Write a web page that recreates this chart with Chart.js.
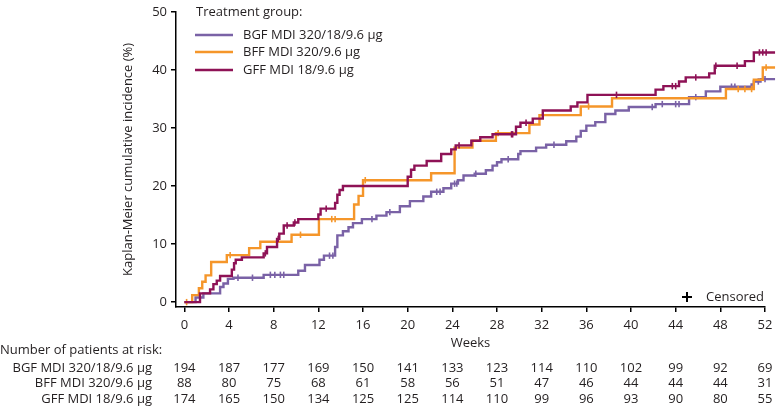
<!DOCTYPE html>
<html>
<head>
<meta charset="utf-8">
<script src="https://cdn.jsdelivr.net/npm/chart.js@4"></script>
<style>
  html, body { margin: 0; padding: 0; background: #fff; }
  #wrap { width: 778px; height: 407px; position: relative; }
</style>
</head>
<body>
<div id="wrap"><canvas id="chart"></canvas></div>
<script>
const groupNames = ["BGF MDI 320/18/9.6 µg", "BFF MDI 320/9.6 µg", "GFF MDI 18/9.6 µg"];
const groupColors = ["#7a62a6", "#f5962a", "#8e1256"];

// step points: week of event, cumulative incidence after it (%)
const bgfWeeks = [0, 1.0, 1.7, 3.2, 3.5, 3.9, 4.4, 7.1, 10.2, 10.8, 12.1, 12.5, 13.5, 13.7, 14.2, 14.7, 15.1, 15.9, 17.2, 18.1, 19.3, 20.2, 21.4, 22.1, 23.2, 23.9, 24.5, 25.0, 26.0, 27.0, 27.6, 28.0, 28.4, 29.9, 30.1, 31.5, 32.4, 34.2, 35.1, 35.5, 36.0, 36.8, 37.7, 38.6, 39.8, 42.2, 45.2, 46.7, 48.0, 50.8, 51.0, 51.6, 52.9];
const bgfPct   = [0, 0.8, 1.5, 2.6, 3.2, 4.0, 4.2, 4.7, 5.4, 6.4, 7.3, 8.0, 9.5, 11.5, 12.2, 12.9, 13.6, 14.3, 14.9, 15.5, 16.5, 17.4, 18.2, 19.0, 19.6, 20.4, 21.0, 21.8, 22.1, 22.7, 23.5, 24.1, 24.6, 25.5, 26.0, 26.6, 27.1, 27.7, 28.5, 29.5, 30.4, 31.0, 32.4, 33.0, 33.6, 34.1, 35.3, 36.3, 37.1, 37.5, 38.0, 38.4, 38.4];

const bffWeeks = [0, 0.7, 1.3, 1.6, 1.9, 2.4, 3.8, 5.8, 6.8, 9.6, 12.05, 15.2, 15.6, 16.0, 22.1, 24.2, 25.8, 27.9, 30.9, 31.8, 35.5, 38.3, 48.5, 51.0, 51.8, 52.9];
const bffPct   = [0, 1.2, 2.4, 3.5, 4.6, 6.9, 8.1, 9.3, 10.4, 11.6, 14.3, 16.8, 18.3, 21.0, 22.2, 26.6, 27.8, 29.1, 30.6, 32.2, 33.7, 35.1, 36.7, 38.3, 40.4, 40.4];

const gffWeeks = [0, 1.4, 2.3, 2.6, 2.9, 3.2, 4.25, 4.45, 4.6, 5.15, 7.1, 7.4, 8.3, 8.5, 8.9, 9.8, 10.2, 12.0, 12.2, 13.5, 13.7, 13.9, 14.2, 20.0, 20.3, 20.6, 21.7, 23.0, 23.9, 24.3, 25.7, 26.5, 27.6, 29.7, 30.1, 31.2, 32.1, 34.6, 35.2, 36.1, 42.2, 42.9, 44.3, 44.9, 47.0, 47.5, 50.2, 51.0, 52.9];
const gffPct   = [0, 1.5, 2.2, 3.1, 3.7, 4.5, 5.6, 6.7, 7.3, 7.7, 8.4, 9.5, 10.9, 11.8, 13.2, 13.7, 14.3, 15.1, 16.1, 17.1, 18.5, 19.3, 20.0, 21.6, 22.8, 23.5, 24.3, 25.5, 26.3, 27.0, 27.8, 28.4, 28.9, 30.2, 30.9, 31.6, 33.0, 33.7, 34.4, 35.7, 36.6, 37.2, 38.0, 38.7, 39.4, 40.7, 41.5, 43.0, 43.0];

// censoring times (weeks)
const bgfCensored = [4.8, 6.1, 7.7, 8.1, 8.6, 8.9, 13.0, 13.3, 16.8, 18.4, 22.6, 22.9, 24.2, 24.4, 26.1, 29.0, 33.1, 41.9, 42.8, 44.0, 44.3, 45.8, 49.0, 49.3, 51.4, 52.0, 52.3, 52.6, 52.9];
const bffCensored = [0.2, 4.1, 10.4, 13.2, 13.5, 16.2, 28.1, 36.2, 49.6, 50.2, 50.8, 52.1, 52.4, 52.7, 52.9];
const gffCensored = [7.25, 8.4, 9.2, 9.9, 12.7, 24.6, 29.3, 29.4, 30.6, 38.7, 43.7, 44.0, 45.8, 47.6, 49.5, 51.5, 51.8, 52.1, 52.4, 52.7, 52.9];

const xTicks = [0, 4, 8, 12, 16, 20, 24, 28, 32, 36, 40, 44, 48, 52];
const yTicks = [0, 10, 20, 30, 40, 50];

const riskWeeks = [0, 4, 8, 12, 16, 20, 24, 28, 32, 36, 40, 44, 48, 52];
const bgfRisk = [194, 187, 177, 169, 150, 141, 133, 123, 114, 110, 102, 99, 92, 69];
const bffRisk = [88, 80, 75, 68, 61, 58, 56, 51, 47, 46, 44, 44, 44, 31];
const gffRisk = [174, 165, 150, 134, 125, 125, 114, 110, 99, 96, 93, 90, 80, 55];

const FONT = "'Open Sans', sans-serif";
const TXT = "#231f20";

function toPoints(weeks, pct) {
  return weeks.map((w, i) => ({ x: w, y: pct[i] }));
}
function valueAt(weeks, pct, t) {
  let v = 0;
  for (let i = 0; i < weeks.length; i++) if (weeks[i] <= t) v = pct[i];
  return v;
}
function censorPoints(cens, weeks, pct) {
  return cens.map(t => ({ x: t, y: valueAt(weeks, pct, t) }));
}

const series = [
  [bgfWeeks, bgfPct, bgfCensored],
  [bffWeeks, bffPct, bffCensored],
  [gffWeeks, gffPct, gffCensored],
];

const datasets = [];
series.forEach((s, i) => {
  datasets.push({
    type: "line",
    label: groupNames[i],
    data: toPoints(s[0], s[1]),
    stepped: "before",
    borderColor: groupColors[i],
    borderWidth: 2.4,
    pointRadius: 0,
    fill: false,
    clip: false,
    order: 3 - i,
  });
  datasets.push({
    type: "scatter",
    label: groupNames[i] + " censored",
    data: censorPoints(s[2], s[0], s[1]),
    pointStyle: "line",
    rotation: 90,
    pointRadius: 3.2,
    pointBorderWidth: 1.6,
    borderColor: groupColors[i],
    backgroundColor: groupColors[i],
    clip: false,
    order: 3 - i,
  });
});

const riskRows = [bgfRisk, bffRisk, gffRisk];

const overlay = {
  id: "overlay",
  afterDraw(chart) {
    const c = chart.ctx;
    const xs = chart.scales.x;
    const area = chart.chartArea;
    c.save();
    c.fillStyle = TXT;
    c.textBaseline = "middle";
    c.font = "13px " + FONT;

    // legend
    c.textAlign = "left";
    c.fillText("Treatment group:", 196, 12);
    const ly = [35, 52, 70];
    groupNames.forEach((n, i) => {
      c.strokeStyle = groupColors[i];
      c.lineWidth = 2.4;
      c.beginPath();
      c.moveTo(195, ly[i]);
      c.lineTo(233, ly[i]);
      c.stroke();
      c.fillStyle = TXT;
      c.fillText(n, 243, ly[i]);
    });

    // censored key
    c.strokeStyle = "#000";
    c.lineWidth = 2;
    c.beginPath();
    c.moveTo(682, 297); c.lineTo(692, 297);
    c.moveTo(687, 292); c.lineTo(687, 302);
    c.stroke();
    c.fillText("Censored", 706, 297);

    // axis titles
    c.textAlign = "center";
    c.fillText("Weeks", (area.left + area.right) / 2, 343);
    c.save();
    c.translate(128, (area.top + area.bottom) / 2);
    c.rotate(-Math.PI / 2);
    c.fillText("Kaplan-Meier cumulative incidence (%)", 0, 0);
    c.restore();

    // number at risk table
    c.textAlign = "left";
    c.fillText("Number of patients at risk:", 0, 350);
    const ry = [368, 383, 399];
    riskRows.forEach((row, i) => {
      c.textAlign = "right";
      c.fillText(groupNames[i], 152, ry[i]);
      c.textAlign = "center";
      row.forEach((n, j) => {
        c.fillText(String(n), xs.getPixelForValue(riskWeeks[j]), ry[i]);
      });
    });
    c.restore();
  },
};

new Chart(document.getElementById("chart"), {
  data: { datasets },
  plugins: [overlay],
  options: {
    responsive: true,
    maintainAspectRatio: false,
    animation: false,
    layout: { padding: { top: 3.5, right: 13, left: 0, bottom: 0 } },
    plugins: { legend: { display: false }, tooltip: { enabled: false } },
    scales: {
      x: {
        type: "linear",
        min: -0.75,
        max: 52,
        afterBuildTicks: s => { s.ticks = xTicks.map(v => ({ value: v })); },
        afterFit: s => { s.height = 100; },
        grid: { drawOnChartArea: false, drawTicks: true, tickLength: 5, color: "#000", lineWidth: 1.5 },
        border: { display: true, color: "#000", width: 1.5 },
        ticks: { color: TXT, font: { family: FONT, size: 13 }, padding: 5, maxRotation: 0 },
      },
      y: {
        type: "linear",
        min: -0.84,
        max: 50,
        afterBuildTicks: s => { s.ticks = yTicks.map(v => ({ value: v })); },
        afterFit: s => { s.width = 176; },
        grid: { drawOnChartArea: false, drawTicks: true, tickLength: 5, color: "#000", lineWidth: 1.5 },
        border: { display: true, color: "#000", width: 1.5 },
        ticks: { color: TXT, font: { family: FONT, size: 13 }, padding: 4 },
      },
    },
  },
});
</script>
</body>
</html>
